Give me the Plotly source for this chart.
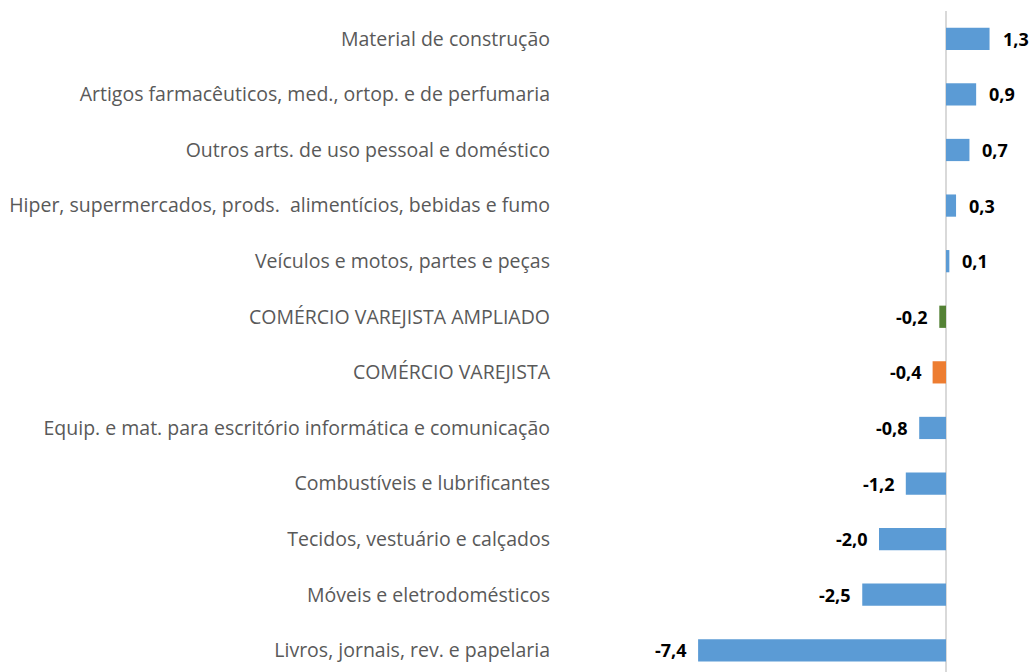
import plotly.graph_objects as go

categories = [
    "Material de construção",
    "Artigos farmacêuticos, med., ortop. e de perfumaria",
    "Outros arts. de uso pessoal e doméstico",
    "Hiper, supermercados, prods.  alimentícios, bebidas e fumo",
    "Veículos e motos, partes e peças",
    "COMÉRCIO VAREJISTA AMPLIADO",
    "COMÉRCIO VAREJISTA",
    "Equip. e mat. para escritório informática e comunicação",
    "Combustíveis e lubrificantes",
    "Tecidos, vestuário e calçados",
    "Móveis e eletrodomésticos",
    "Livros, jornais, rev. e papelaria",
]
values = [1.3, 0.9, 0.7, 0.3, 0.1, -0.2, -0.4, -0.8, -1.2, -2.0, -2.5, -7.4]
value_labels = ["1,3", "0,9", "0,7", "0,3", "0,1", "-0,2", "-0,4", "-0,8", "-1,2", "-2,0", "-2,5", "-7,4"]

BLUE = "#5B9BD5"
colors = [BLUE] * len(categories)
colors[5] = "#548235"
colors[6] = "#ED7D31"

fig = go.Figure()
fig.add_trace(go.Bar(
    x=values, y=categories, orientation="h",
    marker=dict(color=colors, line=dict(width=0)),
    width=0.4, hoverinfo="skip",
))

for cat, v, lab in zip(categories, values, value_labels):
    fig.add_annotation(
        x=v, y=cat, text=f"<b>{lab}</b>", showarrow=False,
        xanchor="left" if v >= 0 else "right",
        xshift=11 if v >= 0 else -9,
        font=dict(family="Open Sans, sans-serif", size=18, color="#000000"),
    )

L = 551
W = 1031
H = 672
zero_px = 946
ppu = 33.5
xmin = -(zero_px - L) / ppu
xmax = (W - zero_px) / ppu

fig.update_layout(
    width=W, height=H,
    margin=dict(l=L, r=0, t=11, b=0),
    plot_bgcolor="white", paper_bgcolor="white",
    showlegend=False,
    xaxis=dict(range=[xmin, xmax], showgrid=False, showticklabels=False,
               zeroline=True, zerolinecolor="#D9D9D9", zerolinewidth=2,
               showline=False, fixedrange=True),
    yaxis=dict(categoryorder="array", categoryarray=categories,
               range=[11.39, -0.5], showgrid=False, showline=False,
               ticks="", ticklabelstandoff=0,
               tickfont=dict(family="Open Sans, sans-serif", size=19.5, color="#595959"),
               fixedrange=True),
)

fig.write_html("out.html", config={"displayModeBar": False})

with open("out.html", "r", encoding="utf-8") as f:
    html = f.read()
html = html.replace("<head>", "<head><style>html,body{margin:0;padding:0;}</style>", 1)
with open("out.html", "w", encoding="utf-8") as f:
    f.write(html)
